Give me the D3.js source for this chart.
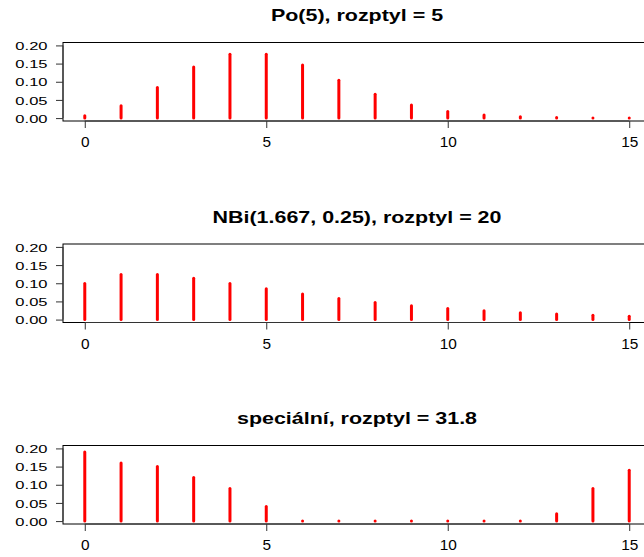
<!DOCTYPE html>
<html><head><meta charset="utf-8">
<script src="https://cdn.jsdelivr.net/npm/d3@7"></script>
<style>body{margin:0;background:#fff}svg{display:block}text{font-family:"Liberation Sans",Arial,sans-serif;fill:#000}</style>
</head><body><div id="chart"></div>
<script>
const ks = [0,1,2,3,4,5,6,7,8,9,10,11,12,13,14,15];
const titles = ["Po(5), rozptyl = 5", "NBi(1.667, 0.25), rozptyl = 20", "speciální, rozptyl = 31.8"];
const poisson = [0.0067,0.0337,0.0842,0.1404,0.1755,0.1755,0.1462,0.1044,0.0653,0.0363,0.0181,0.0082,0.0034,0.0013,0.0005,0.0002];
const negbin = [0.0992,0.1240,0.1240,0.1137,0.0995,0.0846,0.0705,0.0579,0.0471,0.0379,0.0303,0.0241,0.0191,0.0151,0.0118,0.0093];
const special = [0.19,0.16,0.15,0.12,0.09,0.04,0,0,0,0,0,0,0,0.02,0.09,0.14];
const xTicks = [0,5,10,15];
const yTicks = [0,0.05,0.10,0.15,0.20];
const seriesList = [poisson, negbin, special];

const W = 644, H = 557;
const svg = d3.select("#chart").append("svg").attr("width", W).attr("height", H);
const boxTops = [42.5, 244, 445.5];
const boxH = 78.5;
const x = d3.scaleLinear().domain([-0.6, 15.6]).range([63, 651]);

seriesList.forEach((vals, i) => {
  const top = boxTops[i];
  const y = d3.scaleLinear().domain([-0.008, 0.208]).range([top + boxH, top]);
  const g = svg.append("g");
  g.append("rect").attr("x", x(-0.6)).attr("y", top).attr("width", x(15.6) - x(-0.6)).attr("height", boxH)
    .attr("fill", "none").attr("stroke", "#000").attr("stroke-width", 1);
  g.selectAll("line.bar").data(ks).enter().append("line").attr("class", "bar")
    .attr("x1", d => x(d)).attr("x2", d => x(d))
    .attr("y1", y(0)).attr("y2", d => y(vals[d]))
    .attr("stroke", "#ff0000").attr("stroke-width", 3).attr("stroke-linecap", "round");
  const xa = g.append("g").attr("transform", `translate(0,${top + boxH})`)
    .call(d3.axisBottom(x).tickValues(xTicks).tickSize(7).tickSizeOuter(0).tickFormat(d3.format("d")));
  xa.select(".domain").attr("d", `M${x(0)},0H${x(15)}`).attr("stroke", "#333");
  xa.selectAll(".tick line").attr("stroke", "#333");
  xa.selectAll(".tick text").attr("font-size", 14).attr("y", 0).attr("dy", 0)
    .attr("transform", "translate(0,26) scale(1.1,1)");
  const ya = g.append("g").attr("transform", `translate(${x(-0.6)},0)`)
    .call(d3.axisLeft(y).tickValues(yTicks).tickSize(7).tickSizeOuter(0).tickFormat(d3.format(".2f")));
  ya.select(".domain").attr("d", `M0,${y(0)}V${y(0.2)}`).attr("stroke", "#333");
  ya.selectAll(".tick line").attr("stroke", "#333");
  ya.selectAll(".tick text").attr("font-size", 11.8).attr("x", 0).attr("dy", 0)
    .attr("transform", "translate(-15.5,4.2) scale(1.4,1)");
  g.append("text").attr("text-anchor", "middle").attr("font-weight", "bold").attr("font-size", 16.5)
    .attr("transform", `translate(${(x(-0.6) + x(15.6)) / 2},${top - 21.5}) scale(1.3,1)`)
    .text(titles[i]);
});
</script></body></html>
